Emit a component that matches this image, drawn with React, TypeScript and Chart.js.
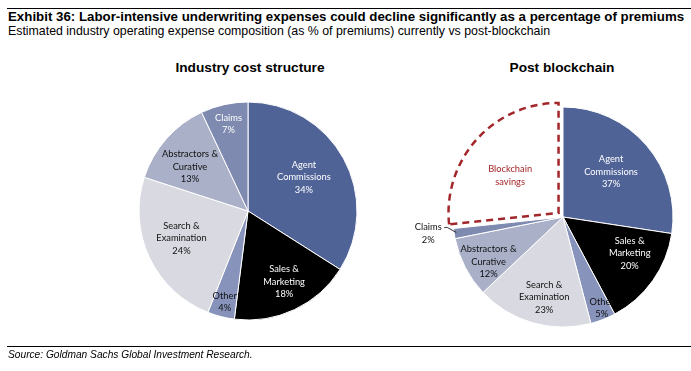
import React, { useEffect, useRef } from "react";
import { Chart, registerables } from "chart.js";

Chart.register(...registerables);

// ---------- Data ----------
const categories = [
  "Agent Commissions",
  "Sales & Marketing",
  "Other",
  "Search & Examination",
  "Abstractors & Curative",
  "Claims",
];
const currentValues = [34, 18, 4, 24, 13, 7];
const postValues = [37, 20, 5, 23, 12, 2];
const savingsLabel = "Blockchain savings";
const savingsValue = 36; // estimated from the size of the dashed wedge

const sliceColors = ["#4F6397", "#000000", "#8793BA", "#D9DAE1", "#A9B0C8", "#7E8AB0"];
const labelColors = ["#FFFFFF", "#FFFFFF", "#111111", "#111111", "#111111", "#FFFFFF"];
const savingsColor = "#A3262A";

// label placement: [radius fraction, angle shift in degrees]
const leftLabelPlace = [
  [0.6, -2.5],
  [0.73, -1.8],
  [0.86, 0],
  [0.66, 2.8],
  [0.67, -4],
  [0.82, 0],
];
const rightLabelPlace = [
  [0.6, -2.6],
  [0.69, -6.8],
  [0.9, -1.7],
  [0.75, -2.8],
  [0.79, -3.7],
  [0, 0], // outside
  [0.61, -4],
];

const LABEL_FONT = "9.3px Lato, 'Open Sans', sans-serif";
const LINE_H = 12.5;

function splitName(name: string): string[] {
  if (name.includes(" & ")) {
    const i = name.indexOf("& ");
    return [name.slice(0, i + 1), name.slice(i + 2)];
  }
  return name.split(" ");
}

function makeLabelPlugin(opts: {
  names: string[];
  values: (number | null)[];
  colors: string[];
  place: number[][];
  outsideIndex?: number;
}) {
  return {
    id: "sliceLabels",
    afterDatasetsDraw(chart: any) {
      const ctx = chart.ctx;
      const meta = chart.getDatasetMeta(0);
      ctx.save();
      ctx.font = LABEL_FONT;
      ctx.textAlign = "center";
      ctx.textBaseline = "middle";
      meta.data.forEach((arc: any, i: number) => {
        const p = arc.getProps(["x", "y", "startAngle", "endAngle", "outerRadius"], true);
        const lines = splitName(opts.names[i]);
        const v = opts.values[i];
        if (v !== null && v !== undefined) lines.push(v + "%");
        const mid = (p.startAngle + p.endAngle) / 2;
        if (opts.outsideIndex === i) {
          const ex = p.x + Math.cos(mid) * (p.outerRadius - 1);
          const ey = p.y + Math.sin(mid) * (p.outerRadius - 1);
          const lx = ex - 27;
          const ly = ey;
          ctx.strokeStyle = "#000";
          ctx.lineWidth = 0.8;
          ctx.beginPath();
          ctx.moveTo(lx + 16, ly - 6);
          ctx.lineTo(lx + 19, ly - 6);
          ctx.lineTo(ex + 1, ey - 1);
          ctx.stroke();
          ctx.fillStyle = "#111";
          lines.forEach((t, k) => {
            ctx.fillText(t, lx, ly + (k - (lines.length - 1) / 2) * LINE_H);
          });
          return;
        }
        const [frac, shift] = opts.place[i];
        const a = mid + (shift * Math.PI) / 180;
        const r = p.outerRadius * frac;
        const x = p.x + Math.cos(a) * r;
        const y = p.y + Math.sin(a) * r;
        ctx.fillStyle = opts.colors[i];
        lines.forEach((t, k) => {
          ctx.fillText(t, x, y + (k - (lines.length - 1) / 2) * LINE_H);
        });
      });
      ctx.restore();
    },
  };
}

function PieCanvas(props: {
  style: React.CSSProperties;
  width: number;
  height: number;
  config: () => any;
}) {
  const ref = useRef<HTMLCanvasElement | null>(null);
  useEffect(() => {
    if (!ref.current) return;
    const chart = new Chart(ref.current, props.config());
    return () => chart.destroy();
  }, []);
  return (
    <div style={{ position: "absolute", width: props.width, height: props.height, ...props.style }}>
      <canvas ref={ref} width={props.width} height={props.height} />
    </div>
  );
}

function leftConfig() {
  return {
    type: "pie",
    data: {
      labels: categories,
      datasets: [
        {
          data: currentValues,
          backgroundColor: sliceColors,
          borderColor: "#FFFFFF",
          borderWidth: 1,
        },
      ],
    },
    options: {
      responsive: false,
      animation: false,
      events: [],
      layout: { padding: { left: 20.5, right: 20.5, top: 10.5, bottom: 10.5 } },
      plugins: { legend: { display: false }, tooltip: { enabled: false }, title: { display: false } },
    },
    plugins: [
      makeLabelPlugin({
        names: categories,
        values: currentValues,
        colors: labelColors,
        place: leftLabelPlace,
      }),
    ],
  };
}

function rightConfig() {
  const names = [...categories, savingsLabel];
  const values = [...postValues, savingsValue];
  return {
    type: "pie",
    data: {
      labels: names,
      datasets: [
        {
          data: values,
          backgroundColor: [...sliceColors, "#FFFFFF"],
          borderColor: (c: any) => (c.dataIndex === 6 ? savingsColor : "#FFFFFF"),
          borderWidth: (c: any) => (c.dataIndex === 6 ? 2.5 : 1),
          borderDash: (c: any) => (c.dataIndex === 6 ? [7, 5] : []),
          offset: (c: any) => (c.dataIndex === 6 ? 24 : 0),
          borderJoinStyle: "miter",
        },
      ],
    },
    options: {
      responsive: false,
      animation: false,
      events: [],
      layout: { padding: { left: 39.75, right: 4.75, top: 7.75, bottom: 7.75 } },
      plugins: { legend: { display: false }, tooltip: { enabled: false }, title: { display: false } },
    },
    plugins: [
      makeLabelPlugin({
        names,
        values: [...postValues, null],
        colors: [...labelColors, savingsColor],
        place: rightLabelPlace,
        outsideIndex: 5,
      }),
    ],
  };
}

const textBase: React.CSSProperties = {
  position: "absolute",
  whiteSpace: "nowrap",
  fontFamily: "'Liberation Sans', Arial, Helvetica, sans-serif",
  color: "#000",
};

export default function App() {
  return (
    <div
      style={{
        position: "absolute",
        left: 0,
        top: 0,
        width: 691,
        height: 371,
        background: "#FFFFFF",
        overflow: "hidden",
      }}
    >
      <div style={{ position: "absolute", left: 7, top: 7.5, width: 684, height: 1.5, background: "#000" }} />
      <div style={{ ...textBase, left: 8, top: 9.8, fontSize: 13.3, lineHeight: "13.3px", fontWeight: 700 }}>
        Exhibit 36: Labor-intensive underwriting expenses could decline significantly as a percentage of premiums
      </div>
      <div style={{ ...textBase, left: 8, top: 25.2, fontSize: 12.35, lineHeight: "12.35px" }}>
        Estimated industry operating expense composition (as % of premiums) currently vs post-blockchain
      </div>
      <div
        style={{
          ...textBase,
          left: 150,
          width: 200,
          textAlign: "center",
          top: 60.8,
          fontSize: 13.7,
          lineHeight: "13.7px",
          fontWeight: 700,
        }}
      >
        Industry cost structure
      </div>
      <div
        style={{
          ...textBase,
          left: 462,
          width: 200,
          textAlign: "center",
          top: 60.8,
          fontSize: 13.7,
          lineHeight: "13.7px",
          fontWeight: 700,
        }}
      >
        Post blockchain
      </div>
      <PieCanvas style={{ left: 118, top: 91 }} width={260} height={240} config={leftConfig} />
      <PieCanvas style={{ left: 400, top: 86 }} width={291} height={262} config={rightConfig} />
      <div style={{ position: "absolute", left: 7, top: 346, width: 684, height: 1, background: "#000" }} />
      <div style={{ ...textBase, left: 8, top: 350, fontSize: 10.2, lineHeight: "10.2px", fontStyle: "italic" }}>
        Source: Goldman Sachs Global Investment Research.
      </div>
    </div>
  );
}
